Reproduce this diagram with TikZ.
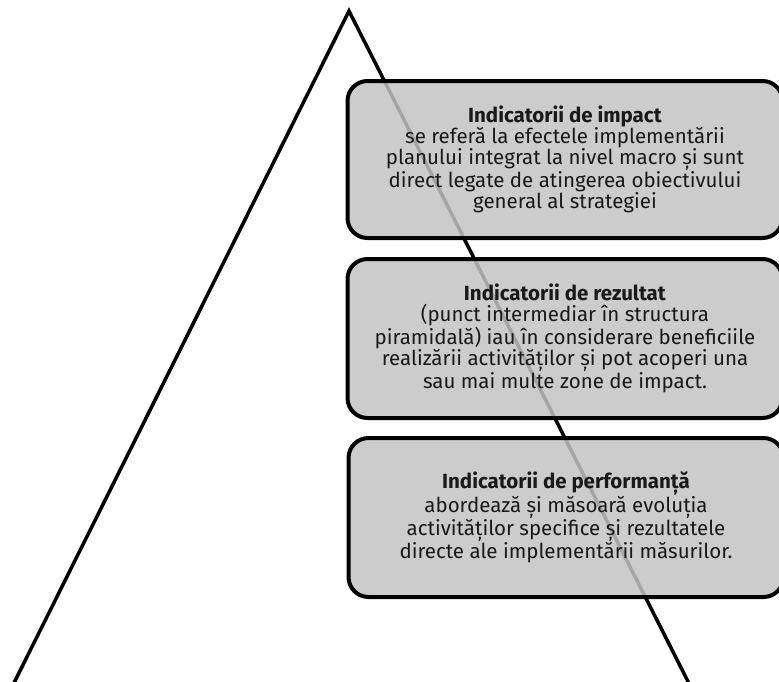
\documentclass[tikz,border=0pt]{standalone}
\usepackage{fontspec}
\setmainfont{Fira Sans}
\begin{document}
\begin{tikzpicture}[x=1pt,y=-1pt,
  infobox/.style={draw=black, line width=4pt, rounded corners=20pt,
    fill={rgb,255:red,195;green,195;blue,195}, fill opacity=0.85, text opacity=1,
    minimum width=435pt, align=center, inner sep=0pt,
    font=\fontsize{20.5}{21}\selectfont, text=black!90},
  edge/.style={line width=3.5pt, line join=miter}]
\useasboundingbox (0,0) rectangle (779,681);
\clip (0,0) rectangle (779,681);
\coordinate (apex) at (349,11);
\coordinate (bl) at (-5,721);
\coordinate (br) at (708,721);
\draw[edge] (bl) -- (apex) -- (br);
\node[infobox, minimum height=157pt] (impact) at (565,159.5)
  {\textbf{Indicatorii de impact}\\
   se referă la efectele implementării\\
   planului integrat la nivel macro și sunt\\
   direct legate de atingerea obiectivului\\
   general al strategiei};
\node[infobox, minimum height=159pt] (rezultat) at (565,338.5)
  {\textbf{Indicatorii de rezultat}\\
   (punct intermediar în structura\\
   piramidală) iau în considerare beneficiile\\
   realizării activităților și pot acoperi una\\
   sau mai multe zone de impact.};
\node[infobox, minimum height=159pt] (performanta) at (566,517.5)
  {\textbf{Indicatorii de performanță}\\
   abordează și măsoară evoluția\\
   activităților specifice și rezultatele\\
   directe ale implementării măsurilor.};
\end{tikzpicture}
\end{document}
